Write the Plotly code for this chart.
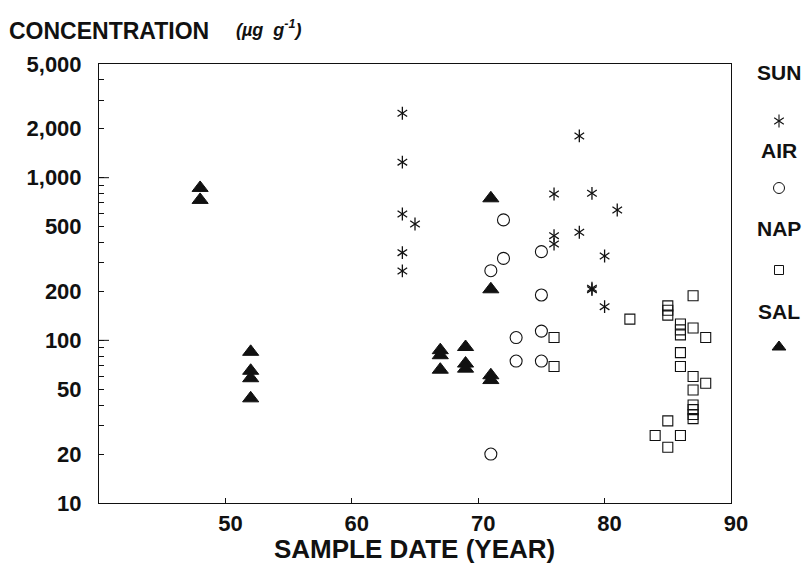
import plotly.graph_objects as go

# ---------------- data ----------------
sun_year = [64, 64, 64, 64, 64, 65, 76, 76, 76, 78, 78, 79, 79, 79, 80, 80, 81]
sun_conc = [2490, 1245, 598, 346, 267, 519, 794, 440, 391, 1805, 462, 802, 209, 205, 330, 161, 633]

air_year = [71, 71, 72, 72, 73, 73, 75, 75, 75, 75]
air_conc = [268, 20, 550, 319, 104, 74.6, 351, 190, 114, 74.6]

nap_year = [76, 76, 82, 84, 85, 85, 85, 85, 85, 86, 86, 86, 86, 86, 86,
            87, 87, 87, 87, 87, 87, 87, 87, 88, 88]
nap_conc = [104, 69, 135, 26, 163, 153, 143, 32, 22, 126, 116, 108, 84, 69, 26,
            188, 119, 60, 49.5, 40, 37.5, 35, 33, 104, 54.5]

sal_year = [48, 48, 52, 52, 52, 52, 67, 67, 67, 69, 69, 69, 71, 71, 71, 71]
sal_conc = [865, 730, 85, 65, 58.5, 44, 87, 81, 66, 91, 72, 67, 747, 206, 61, 57]

y_tick_vals = [10, 20, 50, 100, 200, 500, 1000, 2000, 5000]
y_tick_text = ["10", "20", "50", "100", "200", "500", "1,000", "2,000", "5,000"]
x_tick_vals = [50, 60, 70, 80, 90]
series_names = ["SUN", "AIR", "NAP", "SAL"]

# ---------------- layout geometry ----------------
W, H = 805, 568
L, R, T, B = 99, 731, 64, 503
MR = 5
PW = W - L - MR
PH = B - T


def xp(px):
    return (px - L) / PW


def yp(py):
    return (B - py) / PH


FONT = "Liberation Sans, Arial, Helvetica, sans-serif"
BLACK = "#111111"

fig = go.Figure()

# SUN: six-armed asterisk built from two overlaid symbols
for sym in ["y-up-open", "y-down-open"]:
    fig.add_trace(go.Scatter(
        x=sun_year, y=sun_conc, mode="markers", name="SUN", showlegend=False,
        marker=dict(symbol=sym, size=8, color=BLACK, line=dict(color=BLACK, width=1.3)),
    ))

fig.add_trace(go.Scatter(
    x=air_year, y=air_conc, mode="markers", name="AIR", showlegend=False,
    marker=dict(symbol="circle-open", size=12, color=BLACK, line=dict(color=BLACK, width=1.1)),
))
fig.add_trace(go.Scatter(
    x=nap_year, y=nap_conc, mode="markers", name="NAP", showlegend=False,
    marker=dict(symbol="square-open", size=10, color=BLACK, line=dict(color=BLACK, width=1.1)),
))
fig.add_trace(go.Scatter(
    x=sal_year, y=sal_conc, mode="markers", name="SAL", showlegend=False,
    marker=dict(symbol="triangle-up", size=14, color=BLACK, line=dict(color=BLACK, width=1)),
))

# ---------------- custom legend on a hidden side axis ----------------
LEG_X = 779
leg_label_y = [73, 150, 229, 311]
leg_marker_y = [121, 188, 270, 347]
leg_symbols = [None, "circle-open", "square-open", "triangle-up"]
leg_sizes = [8, 11, 9, 12]

for sym in ["y-up-open", "y-down-open"]:
    fig.add_trace(go.Scatter(
        x=[LEG_X], y=[leg_marker_y[0]], xaxis="x2", yaxis="y2", mode="markers",
        showlegend=False, hoverinfo="skip",
        marker=dict(symbol=sym, size=leg_sizes[0], color=BLACK, line=dict(color=BLACK, width=1.1)),
    ))
for i in range(1, 4):
    fig.add_trace(go.Scatter(
        x=[LEG_X], y=[leg_marker_y[i]], xaxis="x2", yaxis="y2", mode="markers",
        showlegend=False, hoverinfo="skip",
        marker=dict(symbol=leg_symbols[i], size=leg_sizes[i], color=BLACK,
                    line=dict(color=BLACK, width=1)),
    ))

annotations = []
for name, ly in zip(series_names, leg_label_y):
    annotations.append(dict(
        x=xp(LEG_X), y=yp(ly), xref="paper", yref="paper", text="<b>%s</b>" % name,
        showarrow=False, xanchor="center", yanchor="middle",
        font=dict(family=FONT, size=21, color=BLACK),
    ))

annotations.append(dict(
    x=xp(7), y=yp(31), xref="paper", yref="paper", text="<b>CONCENTRATION</b>",
    showarrow=False, xanchor="left", yanchor="middle",
    font=dict(family=FONT, size=23, color=BLACK),
))
annotations.append(dict(
    x=xp(234), y=yp(28), xref="paper", yref="paper",
    text="<b><i>(µg&nbsp;&nbsp;g<sup>-1</sup>)</i></b>",
    showarrow=False, xanchor="left", yanchor="middle",
    font=dict(family=FONT, size=18, color=BLACK),
))
annotations.append(dict(
    x=xp(414), y=yp(549), xref="paper", yref="paper", text="<b>SAMPLE DATE (YEAR)</b>",
    showarrow=False, xanchor="center", yanchor="middle",
    font=dict(family=FONT, size=26, color=BLACK),
))

# longer ticks at the decades
shapes = []
for v in [100, 1000]:
    shapes.append(dict(type="line", xref="paper", yref="y", x0=0, x1=10 / PW, y0=v, y1=v,
                       line=dict(color=BLACK, width=1)))

minor_vals = [m * d for d in (10, 100, 1000) for m in range(2, 10) if m * d < 5000]

TICKFONT = dict(family=FONT, size=22, color=BLACK, weight="bold")

fig.update_layout(
    width=W, height=H, autosize=False,
    margin=dict(l=L, r=MR, t=T, b=H - B, pad=0, autoexpand=False),
    paper_bgcolor="white", plot_bgcolor="white",
    showlegend=False,
    font=dict(family=FONT, size=20, color=BLACK),
    xaxis=dict(
        domain=[0, xp(R)], range=[40, 90], tickvals=x_tick_vals,
        ticks="inside", ticklen=5, tickwidth=1, tickcolor=BLACK,
        showline=True, linecolor=BLACK, linewidth=1, mirror=True,
        showgrid=False, zeroline=False,
        tickfont=TICKFONT,
        ticklabelstandoff=1, ticklabelshift=5,
    ),
    yaxis=dict(
        type="log", range=[1, 3.69897], tickvals=y_tick_vals, ticktext=y_tick_text,
        ticks="inside", ticklen=5, tickwidth=1, tickcolor=BLACK,
        minor=dict(tickvals=minor_vals, ticks="inside", ticklen=5, tickwidth=1, tickcolor=BLACK,
                   showgrid=False),
        showline=True, linecolor=BLACK, linewidth=1, mirror=True,
        showgrid=False, zeroline=False,
        tickfont=TICKFONT,
        ticklabelstandoff=12,
    ),
    xaxis2=dict(domain=[xp(755), 1], range=[755, 800], visible=False, anchor="y2"),
    yaxis2=dict(domain=[0, 1], range=[B, T], visible=False, anchor="x2"),
    annotations=annotations,
    shapes=shapes,
)

fig.write_html(
    "out.html",
    config={"displayModeBar": False, "responsive": False},
    post_script="document.body.style.margin='0px'; document.body.style.overflow='hidden';",
)
